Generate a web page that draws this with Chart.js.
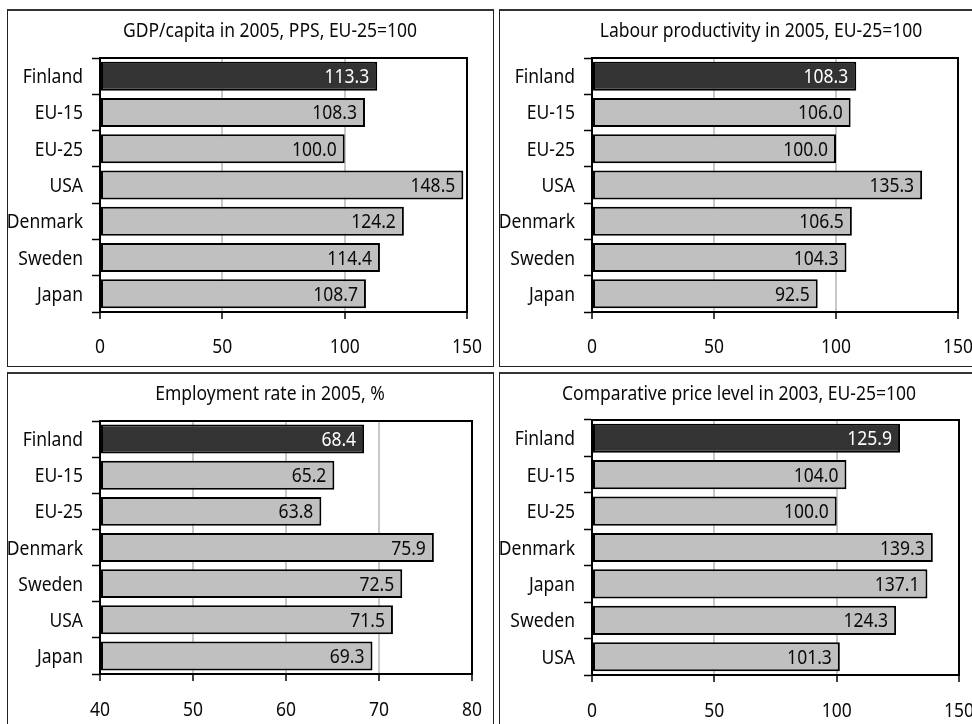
<!DOCTYPE html>
<html>
<head>
<meta charset="utf-8">
<script src="https://cdn.jsdelivr.net/npm/chart.js@4.4.1/dist/chart.umd.min.js"></script>
<style>
  html, body { margin: 0; padding: 0; background: #fff; width: 972px; height: 724px; overflow: hidden; }
  .panel { position: absolute; box-sizing: border-box; border: 1px solid #222; border-top: 2px solid #333; background: #fff; }
  .panel canvas { position: absolute; left: 0; top: 0; }
</style>
</head>
<body>
<div class="panel" style="left:7px; top:9px; width:487px; height:358px;"><canvas id="c1" width="484" height="354"></canvas></div>
<div class="panel" style="left:499px; top:9px; width:487px; height:358px;"><canvas id="c2" width="484" height="354"></canvas></div>
<div class="panel" style="left:7px; top:372px; width:487px; height:358px;"><canvas id="c3" width="484" height="354"></canvas></div>
<div class="panel" style="left:499px; top:372px; width:487px; height:358px;"><canvas id="c4" width="484" height="354"></canvas></div>
<script>
// GDP per capita in 2005, PPS, EU-25 = 100
const gdpTitle = 'GDP/capita in 2005, PPS, EU-25=100';
const gdpCountries = ['Finland', 'EU-15', 'EU-25', 'USA', 'Denmark', 'Sweden', 'Japan'];
const gdpValues = [113.3, 108.3, 100.0, 148.5, 124.2, 114.4, 108.7];
const gdpTicks = [0, 50, 100, 150];

// Labour productivity in 2005, EU-25 = 100
const prodTitle = 'Labour productivity in 2005, EU-25=100';
const prodCountries = ['Finland', 'EU-15', 'EU-25', 'USA', 'Denmark', 'Sweden', 'Japan'];
const prodValues = [108.3, 106.0, 100.0, 135.3, 106.5, 104.3, 92.5];
const prodTicks = [0, 50, 100, 150];

// Employment rate in 2005, %
const empTitle = 'Employment rate in 2005, %';
const empCountries = ['Finland', 'EU-15', 'EU-25', 'Denmark', 'Sweden', 'USA', 'Japan'];
const empValues = [68.4, 65.2, 63.8, 75.9, 72.5, 71.5, 69.3];
const empTicks = [40, 50, 60, 70, 80];

// Comparative price level in 2003, EU-25 = 100
const priceTitle = 'Comparative price level in 2003, EU-25=100';
const priceCountries = ['Finland', 'EU-15', 'EU-25', 'Denmark', 'Japan', 'Sweden', 'USA'];
const priceValues = [125.9, 104.0, 100.0, 139.3, 137.1, 124.3, 101.3];
const priceTicks = [0, 50, 100, 150];

const FONT = '20px "Noto Sans", "Open Sans", sans-serif';
const SQUEEZE = 0.875;         // condensed look: horizontal text compression
const INK = '#0a0a0a';
const HIGHLIGHT = 'Finland';
const DARK = '#333333';
const LIGHT = '#c0c0c0';

// Draws condensed text; align is 'left' | 'center' | 'right', y is the baseline
function drawText(ctx, text, x, y, align, color) {
  ctx.save();
  ctx.font = FONT;
  ctx.fillStyle = color || INK;
  ctx.textBaseline = 'alphabetic';
  ctx.textAlign = align;
  ctx.translate(x, y);
  ctx.scale(SQUEEZE, 1);
  ctx.fillText(text, 0, 0);
  ctx.restore();
}

// Title, category labels and value-axis labels
const labelPlugin = {
  id: 'panelLabels',
  afterDraw(chart, args, opts) {
    const ctx = chart.ctx;
    const a = chart.chartArea;
    const xs = chart.scales.x;
    const ys = chart.scales.y;
    drawText(ctx, opts.title, opts.titleX, opts.titleBase, 'center');
    chart.data.labels.forEach((lab, i) => {
      drawText(ctx, lab, a.left - 17, ys.getPixelForValue(i) + 7, 'right');
    });
    opts.ticks.forEach(v => {
      drawText(ctx, String(v), xs.getPixelForValue(v), a.bottom + opts.tickBase, 'center');
    });
  }
};

// Closing top and right frame of the plot area
const framePlugin = {
  id: 'plotFrame',
  afterDatasetsDraw(chart) {
    const a = chart.chartArea;
    const ctx = chart.ctx;
    ctx.save();
    ctx.strokeStyle = '#000';
    ctx.lineWidth = 2;
    ctx.beginPath();
    ctx.moveTo(a.left, a.top);
    ctx.lineTo(a.right, a.top);
    ctx.lineTo(a.right, a.bottom);
    ctx.stroke();
    ctx.restore();
  }
};

// Value written inside the end of every bar
const valuePlugin = {
  id: 'barValues',
  afterDatasetsDraw(chart) {
    const meta = chart.getDatasetMeta(0);
    const ds = chart.data.datasets[0];
    meta.data.forEach((bar, i) => {
      const color = chart.data.labels[i] === HIGHLIGHT ? '#ffffff' : INK;
      drawText(chart.ctx, ds.data[i].toFixed(1), bar.x - 8, bar.y + 7, 'right', color);
    });
  }
};

function makeChart(canvasId, title, labels, values, ticks, layout) {
  const min = ticks[0];
  const max = ticks[ticks.length - 1];
  return new Chart(document.getElementById(canvasId), {
    type: 'bar',
    data: {
      labels: labels,
      datasets: [{
        data: values,
        base: min,
        backgroundColor: labels.map(l => l === HIGHLIGHT ? DARK : LIGHT),
        borderColor: '#000',
        borderWidth: 2,
        borderSkipped: false,
        barPercentage: 0.8,
        categoryPercentage: 1.0
      }]
    },
    options: {
      indexAxis: 'y',
      responsive: false,
      animation: false,
      devicePixelRatio: 1,
      layout: { padding: { left: 0, top: layout.top, right: layout.right, bottom: 0 } },
      plugins: {
        legend: { display: false },
        tooltip: { enabled: false },
        panelLabels: {
          title: title, titleX: layout.titleX, titleBase: 26,
          ticks: ticks, tickBase: layout.tickBase
        }
      },
      scales: {
        x: {
          type: 'linear',
          min: min,
          max: max,
          afterBuildTicks(scale) { scale.ticks = ticks.map(v => ({ value: v })); },
          afterFit(scale) {
            scale.height = layout.xHeight;
            scale.paddingLeft = 0; scale.paddingRight = 0;
          },
          border: { display: true, color: '#000', width: 2 },
          grid: {
            color: c => (c.tick && c.tick.value > min && c.tick.value < max) ? '#c8c8c8' : 'rgba(0,0,0,0)',
            lineWidth: 2,
            tickColor: '#000',
            tickWidth: 1.5,
            tickLength: 7,
            drawTicks: true
          },
          ticks: { display: false }
        },
        y: {
          afterFit(scale) {
            scale.width = layout.yWidth;
            scale.paddingTop = 0; scale.paddingBottom = 0;
          },
          border: { display: true, color: '#000', width: 2 },
          grid: {
            offset: true,
            drawOnChartArea: false,
            tickColor: '#000',
            tickWidth: 1.5,
            tickLength: 8
          },
          ticks: { display: false }
        }
      }
    },
    plugins: [labelPlugin, valuePlugin, framePlugin]
  });
}

makeChart('c1', gdpTitle, gdpCountries, gdpValues, gdpTicks,
  { top: 47, right: 25, xHeight: 53, yWidth: 92, titleX: 262, tickBase: 41 });
makeChart('c2', prodTitle, prodCountries, prodValues, prodTicks,
  { top: 47, right: 26, xHeight: 53, yWidth: 92, titleX: 261, tickBase: 41 });
makeChart('c3', empTitle, empCountries, empValues, empTicks,
  { top: 47, right: 20, xHeight: 54, yWidth: 92, titleX: 262, tickBase: 42 });
makeChart('c4', priceTitle, priceCountries, priceValues, priceTicks,
  { top: 46, right: 25, xHeight: 53, yWidth: 92, titleX: 239, tickBase: 42 });
</script>
</body>
</html>
